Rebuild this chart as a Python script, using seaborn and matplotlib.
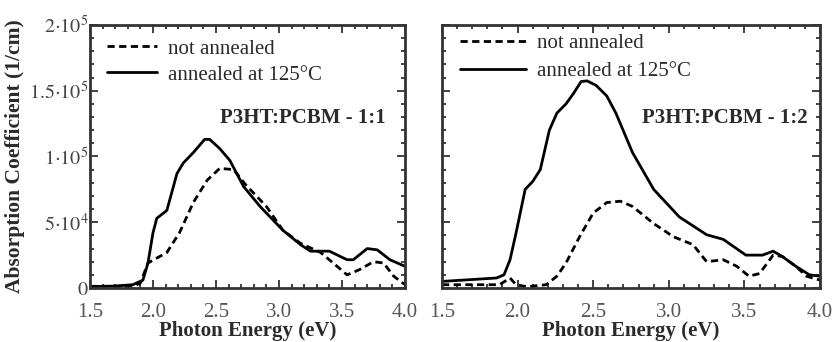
import numpy as np
import pandas as pd
import matplotlib
matplotlib.use("Agg")
import matplotlib.pyplot as plt
import seaborn as sns
from matplotlib.ticker import MultipleLocator, FixedLocator

# ---- data ----
left_solid_x = [1.50, 1.70, 1.84, 1.92, 1.96, 2.00, 2.03, 2.11, 2.19, 2.24, 2.32, 2.41, 2.45, 2.53,
                2.61, 2.72, 2.85, 3.03, 3.17, 3.25, 3.40, 3.54, 3.59, 3.70, 3.78, 3.88, 4.00]
left_solid_y = [1e3, 1.5e3, 2.5e3, 6e3, 1.9e4, 4.2e4, 5.3e4, 5.9e4, 8.7e4, 9.5e4, 1.03e5, 1.13e5, 1.13e5, 1.06e5,
                9.7e4, 7.7e4, 6.2e4, 4.4e4, 3.3e4, 2.8e4, 2.8e4, 2.15e4, 2.15e4, 3.0e4, 2.9e4, 2.15e4, 1.65e4]
left_dash_x = [1.50, 1.70, 1.85, 1.90, 1.96, 2.11, 2.21, 2.32, 2.43, 2.53, 2.64, 2.74, 2.90, 3.03,
               3.17, 3.33, 3.43, 3.54, 3.64, 3.75, 3.83, 3.91, 4.00]
left_dash_y = [1.3e3, 1.3e3, 1.5e3, 3.8e3, 1.9e4, 2.7e4, 4.2e4, 6.5e4, 8.2e4, 9.1e4, 9.0e4, 7.8e4, 6.2e4, 4.4e4,
               3.4e4, 2.7e4, 1.9e4, 1.0e4, 1.4e4, 2.0e4, 1.9e4, 9e3, 2.5e3]

right_solid_x = [1.50, 1.86, 1.91, 1.95, 1.99, 2.05, 2.10, 2.15, 2.21, 2.26, 2.32, 2.37, 2.42, 2.46, 2.52,
                 2.59, 2.65, 2.76, 2.90, 3.07, 3.25, 3.36, 3.51, 3.62, 3.69, 3.75, 3.84, 3.93, 4.00]
right_solid_y = [5e3, 7.6e3, 1e4, 2.15e4, 4.2e4, 7.5e4, 8.1e4, 9e4, 1.2e5, 1.33e5, 1.4e5, 1.48e5, 1.57e5, 1.575e5, 1.54e5,
                 1.46e5, 1.33e5, 1.03e5, 7.5e4, 5.4e4, 4.05e4, 3.7e4, 2.5e4, 2.5e4, 2.8e4, 2.4e4, 1.65e4, 1e4, 9e3]
right_dash_x = [1.50, 1.88, 1.95, 1.99, 2.06, 2.19, 2.26, 2.32, 2.41, 2.50, 2.59, 2.68, 2.76, 2.90, 3.03,
                3.16, 3.25, 3.36, 3.45, 3.53, 3.60, 3.69, 3.75, 3.84, 3.91, 4.00]
right_dash_y = [2.5e3, 2.5e3, 7.6e3, 2.5e3, 1e3, 2.5e3, 9e3, 1.9e4, 3.9e4, 5.7e4, 6.5e4, 6.6e4, 6.2e4, 4.9e4, 3.9e4,
                3.3e4, 2e4, 2.15e4, 1.65e4, 9e3, 1.1e4, 2.5e4, 2.4e4, 1.65e4, 9e3, 6e3]

series_names = ["not annealed", "annealed at 125\u00b0C"]
panel_labels = ["P3HT:PCBM - 1:1", "P3HT:PCBM - 1:2"]
x_ticks = [1.5, 2.0, 2.5, 3.0, 3.5, 4.0]
x_tick_labels = ["1.5", "2.0", "2.5", "3.0", "3.5", "4.0"]
y_ticks = [0, 5e4, 1e5, 1.5e5, 2e5]
y_tick_labels = [r"$0$", r"$5{\cdot}10^4$", r"$1{\cdot}10^5$", r"$1.5{\cdot}10^5$", r"$2{\cdot}10^5$"]

sns.set_style("ticks")
plt.rcParams["font.family"] = ["Liberation Serif", "DejaVu Serif"]
plt.rcParams["mathtext.fontset"] = "stix"

def make_df(dx, dy, sx, sy):
    return pd.concat([
        pd.DataFrame({"E": dx, "a": dy, "series": series_names[0]}),
        pd.DataFrame({"E": sx, "a": sy, "series": series_names[1]}),
    ], ignore_index=True)

dfs = [make_df(left_dash_x, left_dash_y, left_solid_x, left_solid_y),
       make_df(right_dash_x, right_dash_y, right_solid_x, right_solid_y)]

fig = plt.figure(figsize=(8.35, 3.42), dpi=100)
axes = [fig.add_axes([90/835, 1-288/342, 315/835, 263/342]),
        fig.add_axes([442/835, 1-288/342, 378/835, 263/342])]

leg_anchor = [(0.035, 0.97), (0.03, 0.99)]
leg_hlen = [2.4, 3.2]
leg_spacing = [0.3, 0.4]
label_pos = [(0.937, 0.646), (0.968, 0.646)]
GRAY = "#2a2a2a"

for i, ax in enumerate(axes):
    sns.lineplot(data=dfs[i], x="E", y="a", style="series", hue="series",
                 palette={series_names[0]: "black", series_names[1]: "black"},
                 dashes={series_names[0]: (2.6, 1.6), series_names[1]: ""},
                 style_order=series_names, hue_order=series_names,
                 sort=False, linewidth=2.0, ax=ax, legend=True)
    ax.set_xlim(1.5, 4.0)
    ax.set_ylim(0, 2e5)
    ax.xaxis.set_major_locator(FixedLocator(x_ticks))
    ax.xaxis.set_minor_locator(MultipleLocator(0.1))
    ax.yaxis.set_major_locator(FixedLocator(y_ticks))
    ax.yaxis.set_minor_locator(MultipleLocator(1e4))
    ax.set_xticklabels(x_tick_labels, fontsize=15, color="#555555")
    if i == 0:
        ax.set_yticklabels(y_tick_labels, fontsize=14.5, color="#444444")
        ax.set_ylabel("Absorption Coefficient (1/cm)", fontsize=15.5, fontweight="bold", color=GRAY)
        ax.yaxis.set_label_coords(-0.205, 0.5)
    else:
        ax.set_yticklabels([])
        ax.set_ylabel("")
    ax.set_xlabel("Photon Energy (eV)", fontsize=15, fontweight="bold", color=GRAY, labelpad=-1)
    ax.tick_params(which="both", direction="in", top=True, right=True, width=1.3, color="#333333")
    ax.tick_params(axis="x", which="major", length=6, pad=11)
    ax.tick_params(axis="y", which="major", length=6, pad=1)
    ax.tick_params(which="minor", length=3)
    for s in ax.spines.values():
        s.set_linewidth(2.0)
        s.set_color("#333333")
    leg = ax.legend(loc="upper left", bbox_to_anchor=leg_anchor[i], frameon=False, fontsize=15,
                    handlelength=leg_hlen[i], handletextpad=0.5, borderaxespad=0.0,
                    borderpad=0.3, labelspacing=leg_spacing[i])
    for t in leg.get_texts():
        t.set_color(GRAY)
    ax.text(label_pos[i][0], label_pos[i][1], panel_labels[i], transform=ax.transAxes,
            ha="right", va="center", fontsize=15, fontweight="bold", color=GRAY)

fig.savefig("out.png", dpi=100)
